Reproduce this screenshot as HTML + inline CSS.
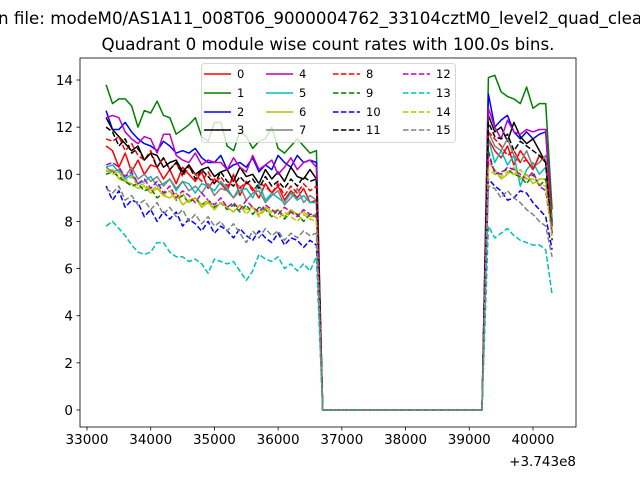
<!DOCTYPE html>
<html><head><meta charset="utf-8"><style>
body{margin:0;background:#fff}
svg{display:block;font-family:"DejaVu Sans","Liberation Sans",sans-serif}
</style></head><body>
<svg id="chart" width="640" height="480" viewBox="0 0 640 480" xmlns="http://www.w3.org/2000/svg">
<rect width="640" height="480" fill="#fff"/>
<text x="-2" y="24" font-size="16.7" fill="#000">n file: modeM0/AS1A11_008T06_9000004762_33104cztM0_level2_quad_clean</text>
<text x="328" y="50" font-size="16.7" text-anchor="middle" fill="#000">Quadrant 0 module wise count rates with 100.0s bins.</text>
<g id="plot"></g>
</svg>
<script>
const xStart = 33300, xStep = 100;
const zeroCount = 26;
const seg1 = {
0:[11.2,11.0,10.3,10.9,10.1,10.6,10.0,10.4,10.3,9.8,10.2,9.6,10.3,10.0,9.7,10.1,9.4,9.8,9.6,9.3,10.0,9.1,9.7,9.4,9.0,9.6,9.2,9.5,8.9,9.3,9.0,9.4,8.8,8.9],
1:[13.8,13.0,13.2,13.2,12.9,12.0,12.7,12.6,13.1,12.5,12.4,11.7,11.9,12.1,12.4,11.6,11.4,12.2,12.2,11.2,11.0,11.8,11.6,11.1,11.4,11.5,12.0,11.1,10.9,11.2,11.5,11.2,10.9,11.0],
2:[12.7,11.9,11.9,12.2,11.8,11.5,11.3,11.2,11.0,11.4,11.2,10.9,11.0,10.9,11.1,10.7,10.5,10.5,10.8,10.2,10.4,10.5,10.3,10.7,10.1,10.4,10.2,10.8,10.5,10.3,10.8,10.5,10.6,10.5],
3:[12.4,11.9,11.6,11.3,11.0,11.2,10.6,10.9,10.8,10.3,10.5,10.6,10.1,10.4,10.0,10.2,10.3,9.9,10.1,10.2,9.7,10.3,9.9,10.0,9.6,10.2,9.8,10.1,9.7,10.3,9.9,9.8,10.2,9.8],
4:[12.4,12.5,12.4,11.8,11.5,11.3,11.6,11.5,10.9,11.7,11.7,10.8,10.6,10.5,10.9,10.4,10.6,10.5,10.5,10.2,10.7,10.3,10.1,10.8,10.2,10.4,10.6,10.0,10.3,10.7,10.2,10.5,10.6,10.3],
5:[10.3,10.4,10.1,9.8,10.0,9.6,9.7,9.9,9.5,9.6,9.8,9.3,9.7,9.6,9.2,9.6,9.5,9.3,9.7,9.4,9.0,9.3,9.4,9.0,9.6,8.9,9.2,9.0,8.8,9.2,8.9,9.1,8.8,8.8],
6:[10.1,10.2,9.8,9.7,9.6,9.4,9.5,9.2,9.4,9.1,9.0,9.2,8.7,8.9,9.0,8.6,8.8,8.5,8.8,8.6,8.4,8.7,8.5,8.6,8.3,8.6,8.4,8.5,8.2,8.5,8.3,8.4,8.2,8.2],
7:[10.3,10.1,10.2,9.9,10.3,9.8,10.0,9.7,9.9,9.5,9.8,9.4,9.7,9.3,9.5,9.2,9.6,9.1,9.4,9.3,9.0,9.5,8.9,9.2,9.3,8.8,9.1,9.3,8.7,9.0,9.4,8.8,9.1,8.9],
8:[11.5,11.4,11.6,11.0,11.3,10.8,10.6,11.0,10.3,10.7,10.2,10.5,9.9,10.3,10.0,9.7,10.1,9.6,9.9,9.5,9.8,9.4,9.7,9.3,9.6,9.5,9.2,9.6,9.1,9.5,9.2,9.6,9.3,9.5],
9:[10.0,10.1,9.9,9.7,9.5,9.6,9.3,9.4,9.0,9.2,9.3,8.9,9.1,8.8,9.0,8.7,8.9,8.6,8.8,8.5,8.7,8.4,8.7,8.3,8.6,8.5,8.2,8.5,8.1,8.4,8.3,8.0,8.3,8.2],
10:[9.5,8.9,9.3,8.6,8.9,8.8,8.2,8.5,8.0,8.4,8.1,8.4,7.8,8.1,7.9,7.6,8.0,7.5,7.8,7.6,7.3,7.7,7.4,7.2,7.6,7.3,7.1,7.5,7.0,7.3,7.2,6.9,7.2,7.0],
11:[12.0,11.8,11.2,11.5,10.9,11.1,10.6,10.9,10.3,10.7,10.2,10.5,10.0,10.4,9.8,10.2,9.9,9.6,10.1,9.7,9.5,9.9,9.6,9.8,9.4,9.9,9.5,9.7,9.4,9.8,9.5,9.9,9.7,9.8],
12:[10.4,10.5,10.3,9.9,10.1,9.6,9.8,9.4,9.7,9.2,9.5,9.0,9.3,9.1,8.8,9.2,8.9,8.7,9.0,8.6,8.8,8.5,8.9,8.6,8.4,8.7,8.5,8.3,8.6,8.4,8.2,8.5,8.3,8.3],
13:[7.8,8.0,7.7,7.4,7.0,6.7,6.6,6.7,7.1,7.1,6.7,6.5,6.5,6.3,6.4,6.2,5.8,6.4,6.3,6.2,6.3,5.9,5.5,5.9,6.6,6.4,6.3,6.5,6.0,6.2,5.9,6.2,5.9,6.5],
14:[10.2,10.0,10.1,9.7,9.9,9.5,9.6,9.3,9.5,9.1,9.3,8.9,9.2,8.8,9.0,8.7,8.9,8.5,8.8,8.6,8.4,8.7,8.3,8.6,8.2,8.5,8.3,8.1,8.4,8.2,8.0,8.3,8.1,8.0],
15:[9.4,9.2,9.5,8.9,9.1,8.7,8.9,8.5,8.8,8.3,8.6,8.2,8.5,8.0,8.3,7.9,8.2,7.8,8.0,7.6,7.9,7.5,7.1,7.6,7.3,7.7,7.4,7.6,7.2,7.5,7.3,7.6,7.4,7.5]
};
const seg2 = {
0:[11.5,11.0,10.7,11.2,10.4,11.0,10.6,10.2,10.8,10.5,7.5],
1:[14.1,14.2,13.5,13.3,13.2,13.0,13.7,12.8,13.0,13.0,8.5],
2:[13.4,12.0,12.3,12.5,11.8,11.5,11.8,11.5,11.7,11.8,7.8],
3:[12.5,11.8,12.0,11.4,12.2,11.6,11.3,11.5,11.0,10.5,7.5],
4:[12.8,12.0,11.5,12.3,11.8,11.7,11.9,11.8,11.9,11.9,8.0],
5:[11.5,10.5,11.0,10.4,10.8,9.5,10.2,10.5,10.0,10.3,8.0],
6:[10.5,10.2,9.8,10.0,10.3,9.8,10.0,9.6,9.8,9.8,7.5],
7:[11.8,11.2,11.0,11.5,10.8,10.5,11.0,10.3,10.5,10.8,7.5],
8:[11.8,11.5,11.2,10.8,11.0,10.5,10.6,10.2,10.8,10.5,8.0],
9:[11.0,10.0,10.1,10.2,10.0,9.9,9.6,10.0,9.5,9.8,8.0],
10:[9.8,9.5,9.3,8.9,9.0,9.3,9.2,8.8,8.5,8.2,6.8],
11:[12.2,11.6,11.5,11.7,11.0,11.4,11.2,11.0,10.8,10.5,7.2],
12:[10.8,10.1,10.0,10.3,10.2,10.0,9.8,10.1,9.5,9.3,7.5],
13:[7.8,7.3,7.5,7.7,7.4,7.2,7.1,7.0,7.0,6.8,4.9],
14:[10.2,10.0,9.9,10.1,10.0,10.2,9.8,9.8,9.6,9.5,7.3],
15:[9.5,9.4,9.0,9.3,9.0,8.8,8.5,8.3,8.0,7.8,6.5]
};
const colors = ['#ff0000','#008000','#0000ff','#000000','#bf00bf','#00bfbf','#bfbf00','#808080'];
const xTicks = [33000,34000,35000,36000,37000,38000,39000,40000];
const yTicks = [0,2,4,6,8,10,12,14];

const L=80,R=576,T=58,B=427;
function xs(v){return 87+(v-33000)*(446/7000);}
function ys(v){return 410-v*(330/14);}
const NS='http://www.w3.org/2000/svg';
const g=document.getElementById('plot');
function mk(tag,attrs,parent){const e=document.createElementNS(NS,tag);for(const k in attrs)e.setAttribute(k,attrs[k]);(parent||g).appendChild(e);return e;}

for(let s=0;s<16;s++){
  const vals=seg1[s].concat(new Array(zeroCount).fill(0)).concat(seg2[s]);
  const pts=vals.map((v,i)=>xs(xStart+i*xStep).toFixed(1)+','+ys(v).toFixed(1)).join(' ');
  const a={points:pts,fill:'none',stroke:colors[s%8],'stroke-width':1.5,'stroke-linejoin':'round'};
  if(s>=8)a['stroke-dasharray']='5.5,2.4';
  const pl=mk('polyline',a);
  
  
}
const frame=mk('rect',{x:L,y:T,width:R-L,height:B-T,fill:'none',stroke:'#000','stroke-width':0.8});


xTicks.forEach(t=>{
  const x=xs(t);
  mk('line',{x1:x,x2:x,y1:B,y2:B+3.5,stroke:'#000','stroke-width':0.8});
  const tx=mk('text',{x:x,y:B+17,'font-size':13.5,'text-anchor':'middle'});
  tx.textContent=t;
  
  
});
yTicks.forEach(t=>{
  const y=ys(t);
  mk('line',{x1:L-3.5,x2:L,y1:y,y2:y,stroke:'#000','stroke-width':0.8});
  const tx=mk('text',{x:L-7,y:y+5,'font-size':13.5,'text-anchor':'end'});
  tx.textContent=t;
  
  
});
const off=mk('text',{x:576,y:466,'font-size':13.5,'text-anchor':'end'});
off.textContent='+3.743e8';



const leg=mk('g',{});


mk('rect',{x:201.5,y:63.5,width:254,height:79,rx:3,fill:'#fff','fill-opacity':0.8,stroke:'#ccc','stroke-width':0.8},leg);
const colX=[204,266,333,403];
const rowY=[74,93,112,130];
for(let s=0;s<16;s++){
  const c=Math.floor(s/4),r=s%4;
  const a={x1:colX[c],x2:colX[c]+27,y1:rowY[r],y2:rowY[r],stroke:colors[s%8],'stroke-width':1.5};
  if(s>=8)a['stroke-dasharray']='5.5,2.4';
  const ln=mk('line',a,leg);
  
  
  const tx=mk('text',{x:colX[c]+33,y:rowY[r]+4,'font-size':11.5},leg);
  tx.textContent=s;
  
  
}
</script>
</body></html>
